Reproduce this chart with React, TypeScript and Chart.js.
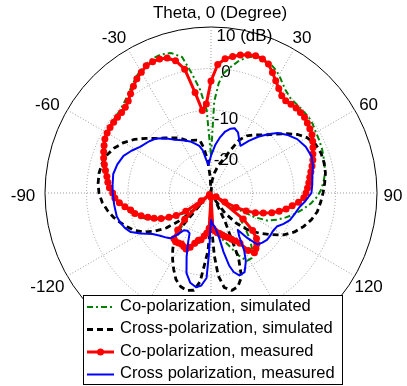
import React, { useEffect, useRef } from 'react';
import { Chart, registerables } from 'chart.js';

Chart.register(...registerables);

// ---- axis definitions ----
const ANGLE_STEPS = 360; // one category per degree, 0 at top, clockwise
const R_MIN = -30;
const R_MAX = 10;
const R_STEP = 10;
const radialTickValues = [-20, -10, 0, 10];
const radialTickLabels = ['-20', '-10', '0', '10'];
const radialUnit = ' (dB)';
const angleTickValues = [-120, -90, -60, -30, 30, 60, 90, 120];
const angleTitle = 'Theta, 0 (Degree)';
const seriesNames = [
  'Co-polarization, simulated',
  'Cross-polarization, simulated',
  'Co-polarization, measured',
  'Cross polarization, measured',
];

// ---- series: [theta (deg), level (dB)] ----
const coPolSimulated: [number, number][] = [
  [-180, -27], [-176, -21.5], [-172, -19], [-168, -18], [-164, -17], [-160, -16.3], [-156, -15.8],
  [-152, -15.5], [-148, -15.3], [-144, -15.5], [-140, -18], [-136, -21.5], [-132, -27], [-129, -23.5],
  [-126, -21.5], [-123, -19.5], [-120, -17.8], [-116, -15.5], [-112, -13.3], [-108, -11.6], [-104, -10.2],
  [-100, -9], [-96, -7.8], [-92, -6.8], [-88, -5.8], [-84, -5], [-80, -4], [-76, -3.2], [-72, -2.5],
  [-68, -1.9], [-64, -1.3], [-60, -1], [-56, -0.8], [-52, -0.6], [-48, -0.4], [-44, 0.2], [-40, 1],
  [-36, 2.3], [-32, 3.5], [-28, 4.6], [-24, 5.3], [-20, 5.5], [-16, 5.1], [-12, 3.5], [-9, -1],
  [-6, -5], [-3, -10], [0, -21], [2, -8], [4, -3.5], [6, -1], [9, 0.8], [12, 2.6], [15, 3.8],
  [18, 4.6], [21, 4.8], [24, 4.4], [27, 3.7], [30, 2.8], [33, 1.6], [36, 0.6], [40, -0.2], [44, -0.3],
  [48, -0.3], [52, -0.2], [56, -0.4], [60, -0.8], [64, -1], [68, -1.2], [72, -1.5], [76, -1.8],
  [80, -2.1], [84, -2.7], [88, -3.4], [92, -4.4], [96, -5.8], [100, -7.5], [104, -9.2], [108, -11],
  [112, -12.8], [116, -14.8], [119, -18], [122, -23], [125, -25], [128, -22], [132, -20.5], [136, -18],
  [140, -15.5], [144, -13], [148, -11.5], [152, -11.5], [156, -13.5], [160, -16], [164, -17.8],
  [168, -19], [172, -20], [176, -22],
];

const crossPolSimulated: [number, number][] = [
  [0, -30], [5, -27], [10, -25], [15, -23], [20, -21.5], [24, -19], [28, -15.5], [32, -13.8], [36, -12.7],
  [40, -11.7], [44, -10.5], [48, -8.8], [52, -6.8], [56, -4.8], [60, -3.3], [65, -2.2], [70, -1.8],
  [75, -1.8], [80, -2], [85, -2.5], [90, -3], [95, -3.5], [100, -4], [105, -5], [110, -6.3], [115, -7.8],
  [120, -9.8], [125, -12.5], [130, -15], [135, -17.5], [140, -20.5], [145, -24], [150, -28], [154, -22],
  [157, -13], [160, -8.5], [164, -6.5], [168, -6], [172, -7], [175, -10], [177, -15], [179, -22],
  [180, -30], [-179, -22], [-177, -16], [-175, -13], [-173, -8.5], [-170, -6.2], [-166, -5.8],
  [-162, -6.3], [-158, -7.5], [-154, -9.5], [-150, -11.5], [-146, -13.5], [-142, -15.5], [-139, -20],
  [-137, -27], [-134, -23], [-131, -19.5], [-128, -16.3], [-124, -13.5], [-120, -11.2], [-116, -9.5],
  [-112, -8.2], [-108, -7], [-104, -5.8], [-100, -4.8], [-95, -3.7], [-90, -3], [-85, -2.7], [-80, -2.6],
  [-75, -2.8], [-70, -3.3], [-65, -4.3], [-60, -5.7], [-55, -7.5], [-50, -9.5], [-45, -11.4],
  [-40, -12.7], [-35, -13.8], [-30, -14.7], [-25, -16], [-20, -16.5], [-15, -16.8], [-12, -17],
  [-9, -19], [-6, -22], [-3, -26],
];

const coPolMeasured: [number, number][] = [
  [-180, -29], [-177, -21.5], [-174, -20.3], [-171, -19.5], [-168, -18.5], [-165, -18.2], [-162, -17.3],
  [-159, -16], [-156, -15.2], [-153, -15.5], [-150, -15.8], [-147, -15.6], [-144, -15.5], [-141, -15.8],
  [-138, -18], [-135, -21], [-132, -29.5], [-129, -27], [-126, -22.5], [-123, -20], [-120, -18.3],
  [-117, -16.5], [-114, -15], [-111, -13.7], [-108, -12.3], [-105, -11], [-102, -10.2], [-99, -9],
  [-96, -7.8], [-93, -6.8], [-90, -6.3], [-87, -5.5], [-84, -5], [-81, -4.6], [-78, -4], [-75, -3.4],
  [-72, -2.8], [-69, -2.3], [-66, -1.8], [-63, -1.3], [-60, -1.1], [-57, -1], [-54, -1], [-51, -1],
  [-48, -1], [-45, -0.8], [-42, -0.2], [-39, 0.8], [-36, 1.8], [-33, 2.8], [-30, 3.6], [-27, 4.4],
  [-24, 4.6], [-21, 4.6], [-18, 4.2], [-15, 3], [-12, 0.5], [-9, -5.5], [-6, -10], [-3, -8.5], [0, -3],
  [3, 1], [6, 2.5], [9, 3.3], [12, 4], [15, 4.5], [18, 4.8], [21, 4.6], [24, 4], [27, 2.6], [30, 1.2],
  [33, 0], [36, -1], [39, -1.4], [42, -1.2], [45, -1], [48, -1], [51, -1], [54, -1.3], [57, -1.6],
  [60, -1.9], [63, -2.5], [66, -3.1], [69, -3.7], [72, -4.2], [75, -4.8], [78, -5.4], [81, -5.9],
  [84, -6.3], [87, -6.7], [90, -7.1], [93, -7.6], [96, -8.8], [99, -10.2], [102, -11.5], [105, -13],
  [108, -14.6], [111, -16.5], [114, -18.3], [117, -20.5], [120, -23], [123, -26], [126, -28.5],
  [129, -20], [132, -16.5], [135, -14.5], [138, -13.5], [141, -12.8], [144, -12.2], [147, -13.5],
  [150, -16], [153, -17], [156, -17.8], [159, -18.5], [162, -19], [165, -19.5], [168, -20], [171, -20.3],
  [174, -20.8], [177, -21.5],
];

const crossPolMeasured: [number, number][] = [
  [0, -21], [5, -18.4], [9, -16.5], [13, -14.8], [17, -13.8], [20, -13.4], [24, -14], [28, -15.5],
  [32, -16.6], [36, -14.5], [40, -12.3], [44, -10.3], [48, -8.4], [53, -6.8], [58, -5.5], [64, -4.6],
  [70, -4.2], [75, -4.6], [80, -5.2], [85, -5.5], [90, -5.8], [95, -7.2], [99, -8.4], [104, -9.2],
  [109, -9.9], [113, -11], [117, -12.2], [122, -12.5], [126, -12.4], [130, -12.4], [134, -12.8],
  [138, -13.3], [141, -16], [144, -19], [147, -17.5], [150, -14], [153, -11.5], [157, -9.3], [161, -9],
  [164, -10.2], [166, -12], [168, -15.5], [170, -19.5], [173, -21.5], [177, -22.5], [180, -23.5],
  [-178, -15], [-177, -9.5], [-174, -7.6], [-171, -7], [-167, -7.8], [-163, -9.8], [-159, -13.6],
  [-155, -17], [-152, -19], [-148, -19.3], [-144, -18.9], [-141, -17], [-138, -15.3], [-135, -14.8],
  [-130, -14], [-125, -12.8], [-120, -10.5], [-116, -8.5], [-112, -7.6], [-108, -7], [-104, -6.6],
  [-97, -6.5], [-90, -6.3], [-85, -6.2], [-79, -6], [-73, -6.4], [-67, -7.1], [-62, -8.3], [-57, -9.6],
  [-50, -10.6], [-45, -11.4], [-40, -12.8], [-35, -14.3], [-31, -15.1], [-27, -15.8], [-22, -16.6],
  [-18, -17.5], [-14, -18.3], [-11, -19.5], [-8, -22], [-5, -23.2],
];

// ---- helpers ----
const FONT = '17px "Liberation Sans", Arial, Helvetica, sans-serif';
const LEGEND_FONT = '16.5px "Liberation Sans", Arial, Helvetica, sans-serif';

const angleLabels = Array.from({ length: ANGLE_STEPS }, (_, i) => String(i > 180 ? i - 360 : i));

function toCategoryArray(pairs: [number, number][]): (number | null)[] {
  const arr: (number | null)[] = new Array(ANGLE_STEPS).fill(null);
  pairs.forEach(([a, v]) => {
    arr[((Math.round(a) % 360) + 360) % 360] = v;
  });
  return arr;
}

const polarDecor = {
  id: 'polarDecor',
  beforeDatasetsDraw(chart: any) {
    const s = chart.scales.r;
    const ctx = chart.ctx as CanvasRenderingContext2D;
    ctx.save();
    ctx.font = FONT;
    ctx.fillStyle = '#000';
    ctx.textBaseline = 'middle';
    // radial tick labels
    radialTickValues.forEach((v, i) => {
      const d = s.getDistanceFromCenterForValue(v);
      const x = s.xCenter + 15;
      const y = s.yCenter - d + (v === 0 ? 4 : 9);
      const lab = radialTickLabels[i];
      ctx.textAlign = 'center';
      ctx.fillText(lab, x, y);
      if (i === radialTickValues.length - 1) {
        ctx.textAlign = 'left';
        ctx.fillText(radialUnit, x + ctx.measureText(lab).width / 2, y);
      }
    });
    // angle labels
    const R = s.drawingArea + 16;
    angleTickValues.forEach((a) => {
      const rad = (a * Math.PI) / 180;
      let x = s.xCenter + R * Math.sin(rad);
      const y = s.yCenter - R * Math.cos(rad) + 3;
      if (a < 0) x -= 6;
      ctx.textAlign = 'center';
      ctx.fillText(String(a), x, y);
    });
    ctx.textAlign = 'center';
    ctx.fillText(angleTitle, s.xCenter + 9, s.yCenter - s.drawingArea - 14);
    ctx.restore();
  },
  afterDraw(chart: any) {
    const ctx = chart.ctx as CanvasRenderingContext2D;
    const box = { left: 83, top: 295, width: 260, height: 90 };
    ctx.save();
    ctx.fillStyle = '#fff';
    ctx.fillRect(box.left, box.top, box.width, box.height);
    ctx.strokeStyle = '#000';
    ctx.lineWidth = 1;
    ctx.setLineDash([]);
    ctx.strokeRect(box.left + 0.5, box.top + 0.5, box.width - 1, box.height - 1);
    ctx.font = LEGEND_FONT;
    ctx.textBaseline = 'middle';
    ctx.textAlign = 'left';
    chart.data.datasets.forEach((ds: any, i: number) => {
      const y = box.top + 11 + i * 22.5;
      ctx.strokeStyle = ds.borderColor;
      ctx.lineWidth = ds.borderWidth;
      ctx.setLineDash(ds.borderDash || []);
      ctx.beginPath();
      ctx.moveTo(box.left + 4, y + 1);
      ctx.lineTo(box.left + 31, y + 1);
      ctx.stroke();
      ctx.setLineDash([]);
      if (ds.pointRadius > 0) {
        ctx.fillStyle = ds.pointBackgroundColor;
        ctx.beginPath();
        ctx.arc(box.left + 17.5, y + 1, ds.pointRadius, 0, Math.PI * 2);
        ctx.fill();
      }
      ctx.fillStyle = '#000';
      ctx.fillText(ds.label, box.left + 37, y);
    });
    ctx.restore();
  },
};

export default function App() {
  const ref = useRef<HTMLCanvasElement | null>(null);

  useEffect(() => {
    if (!ref.current) return;
    const chart = new Chart(ref.current, {
      type: 'radar',
      data: {
        labels: angleLabels,
        datasets: [
          {
            label: seriesNames[0],
            data: toCategoryArray(coPolSimulated),
            borderColor: '#008000',
            borderWidth: 2,
            borderDash: [6, 3, 2, 3],
            pointRadius: 0,
            fill: false,
            spanGaps: true,
            order: 3,
          },
          {
            label: seriesNames[1],
            data: toCategoryArray(crossPolSimulated),
            borderColor: '#000000',
            borderWidth: 2.8,
            borderDash: [6, 4],
            pointRadius: 0,
            fill: false,
            spanGaps: true,
            order: 2,
          },
          {
            label: seriesNames[2],
            data: toCategoryArray(coPolMeasured),
            borderColor: '#ff0000',
            borderWidth: 3,
            pointRadius: 3.5,
            pointBackgroundColor: '#ff0000',
            pointBorderColor: '#ff0000',
            pointBorderWidth: 0,
            fill: false,
            spanGaps: true,
            order: 1,
          },
          {
            label: seriesNames[3],
            data: toCategoryArray(crossPolMeasured),
            borderColor: '#0000ff',
            borderWidth: 2,
            pointRadius: 0,
            fill: false,
            spanGaps: true,
            order: 0,
          },
        ] as any,
      },
      options: {
        responsive: false,
        animation: false,
        layout: { padding: { left: 45, right: 30, top: 27, bottom: 27 } },
        elements: {
          line: { tension: 0, borderJoinStyle: 'round' },
          point: { hitRadius: 0, hoverRadius: 0 },
        },
        plugins: {
          legend: { display: false },
          tooltip: { enabled: false },
          title: { display: false },
        },
        scales: {
          r: {
            min: R_MIN,
            max: R_MAX,
            startAngle: 0,
            ticks: { display: false, stepSize: R_STEP },
            pointLabels: { display: false },
            grid: {
              circular: true,
              color: (c: any) => (c.tick && c.tick.value === R_MAX ? '#000000' : '#9a9a9a'),
              lineWidth: 1,
            },
            border: {
              dash: (c: any) => (c.tick && c.tick.value === R_MAX ? [] : [1, 2]),
            },
            angleLines: {
              display: true,
              color: '#9a9a9a',
              lineWidth: (c: any) => (c.index % 30 === 0 ? 1 : 0),
              borderDash: [1, 2],
            },
          },
        } as any,
      },
      plugins: [polarDecor],
    });
    return () => chart.destroy();
  }, []);

  return (
    <div style={{ position: 'fixed', left: 0, top: 0, width: 407, height: 386, background: '#fff' }}>
      <canvas ref={ref} width={407} height={386} style={{ display: 'block' }} />
    </div>
  );
}
